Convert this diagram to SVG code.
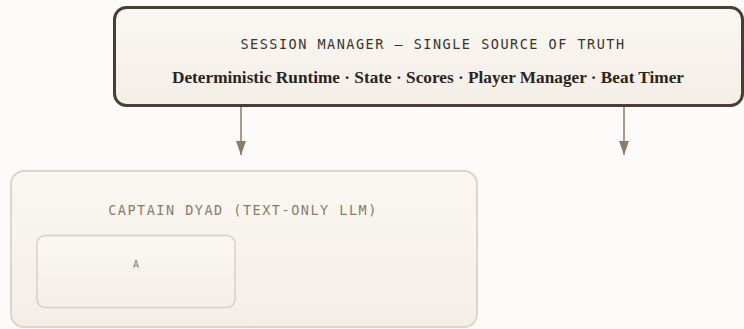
<svg xmlns="http://www.w3.org/2000/svg" width="744" height="329" viewBox="0 0 744 329">
  <defs>
    <linearGradient id="paper" x1="0" y1="0" x2="0" y2="1">
      <stop offset="0" stop-color="#faf7f2"/>
      <stop offset="1" stop-color="#f3eee6"/>
    </linearGradient>
    <marker id="arrow" markerWidth="14" markerHeight="10" refX="14" refY="5" orient="auto" markerUnits="userSpaceOnUse" viewBox="0 0 14 10">
      <path d="M0,0 L14,5 L0,10 Z" fill="#8b7b69"/>
    </marker>
    <style>
      .mono { font-family: "DejaVu Sans Mono", "Liberation Mono", monospace; font-size: 13.5px; letter-spacing: 1.5px; }
      .serif { font-family: "Liberation Serif", "DejaVu Serif", serif; font-weight: 600; font-size: 17px; fill: #2b241d; }
      .main { fill: url(#paper); stroke: #4a3d31; stroke-width: 3; }
      .group { fill: url(#paper); stroke: #ddd5c7; stroke-width: 2; }
      .inner { fill: url(#paper); stroke: #d8d0c2; stroke-width: 1.5; }
      .edge { stroke: #8b7b69; stroke-width: 1.5; fill: none; marker-end: url(#arrow); }
    </style>
  </defs>

  <rect width="744" height="329" fill="#fcfbf9"/>

  <!-- Session manager -->
  <g id="session-manager">
    <rect class="main" x="114.5" y="7.5" width="628" height="98" rx="12"/>
    <text class="mono" x="433" y="49" text-anchor="middle" fill="#3a332c">SESSION MANAGER — SINGLE SOURCE OF TRUTH</text>
    <text class="serif" x="428" y="83" text-anchor="middle" textLength="512" lengthAdjust="spacingAndGlyphs">Deterministic Runtime · State · Scores · Player Manager · Beat Timer</text>
  </g>

  <!-- Connectors -->
  <g id="connectors">
    <line class="edge" x1="241" y1="107" x2="241" y2="155"/>
    <line class="edge" x1="624" y1="107" x2="624" y2="155"/>
  </g>

  <!-- Captain Dyad -->
  <g id="captain-dyad">
    <rect class="group" x="11" y="171" width="466" height="156" rx="13"/>
    <text class="mono" x="243" y="215" text-anchor="middle" fill="#8a7b6b">CAPTAIN DYAD (TEXT-ONLY LLM)</text>
  </g>

  <g id="node-a">
    <rect class="inner" x="37" y="235.5" width="198" height="72" rx="8"/>
    <text x="136" y="268" text-anchor="middle" font-family="DejaVu Sans Mono, monospace" font-size="10" fill="#8a7b6b">A</text>
  </g>
</svg>
